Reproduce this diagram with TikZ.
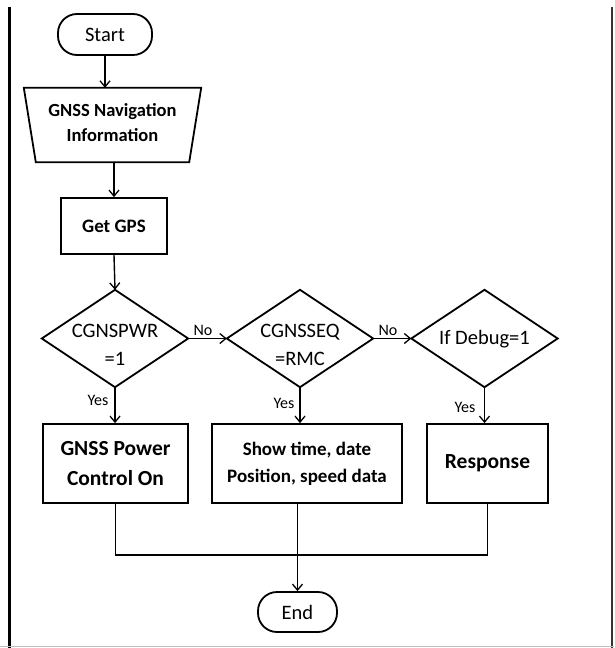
\documentclass[tikz,border=0pt]{standalone}
\usepackage{fontspec}
\setmainfont{Carlito}
\usetikzlibrary{arrows.meta}
\begin{document}
\begin{tikzpicture}[x=1pt,y=-1pt,
  shapeline/.style={line width=1.8pt},
  flow/.style={line width=1.4pt,-{Straight Barb[length=6pt,width=10pt,line width=1.3pt]}},
  link/.style={line width=1.4pt},
  terminal/.style={draw,shapeline,rounded corners=19pt,inner sep=0pt,font=\fontsize{20.5}{22}\selectfont},
  procbox/.style={draw,shapeline,inner sep=0pt,align=center},
  decision/.style={inner sep=0pt,minimum width=146pt,minimum height=97pt},
  dtext/.style={align=center,inner sep=0pt,font=\fontsize{20.5}{28}\selectfont},
  lbl/.style={font=\fontsize{16}{18}\selectfont,inner sep=0pt}
]
% page area
\useasboundingbox (0,0) rectangle (614,648);
\fill[white] (0,0) rectangle (614,648);

% frame
\draw[line width=2.4pt] (9.5,7) -- (9.5,648);
\draw[line width=2pt,black!80] (612,7) -- (612,648);
\draw[line width=1.6pt,black!25] (0,646.5) -- (614,646.5);

% terminals and process nodes
\node[terminal,minimum width=94pt,minimum height=41pt] (start) at (105,34.5) {Start};
\node[inner sep=0pt,minimum width=177pt,minimum height=74pt] (trap) at (112.5,125) {};
\node[align=center,font=\bfseries\fontsize{18.5}{25}\selectfont] (traptext) at (112.5,123) {GNSS Navigation\\Information};
\draw[shapeline,line join=miter] (trap.north west) -- (trap.north east)
  -- ([xshift=-12pt]trap.south east) -- ([xshift=12pt]trap.south west) -- cycle;
\node[procbox,minimum width=106pt,minimum height=56pt,font=\bfseries\fontsize{19}{22}\selectfont] (gps) at (114,226) {Get GPS};

% decisions: outline from the node's side midpoints, text set separately
\node[decision] (d1) at (115,338.5) {};
\node[decision] (d2) at (300,338.5) {};
\node[decision] (d3) at (484.5,338.5) {};
\foreach \n in {d1,d2,d3}
  \draw[shapeline,line join=miter] (\n.north) -- (\n.east) -- (\n.south) -- (\n.west) -- cycle;
\node[dtext] (d1t) at (115,345) {CGNSPWR\\=1};
\node[dtext] (d2t) at (300,345) {CGNSSEQ\\=RMC};
\node[dtext] (d3t) at (484.5,339) {If Debug=1};

% actions
\node[procbox,minimum width=145pt,minimum height=79pt,font=\bfseries\fontsize{21.5}{30}\selectfont] (box1) at (115.5,463.5) {GNSS Power\\Control On};
\node[procbox,minimum width=190pt,minimum height=79pt,font=\bfseries\fontsize{19}{27}\selectfont] (box2) at (307,463.5) {Show time, date\\Position, speed data};
\node[procbox,minimum width=121pt,minimum height=79pt,font=\bfseries\fontsize{21.5}{30}\selectfont] (box3) at (487.5,463.5) {Response};

\node[terminal,minimum width=79pt,minimum height=40pt] (end) at (297.5,612) {End};

% connectors
\draw[flow] (start.south) -- (start.south |- trap.north);
\draw[flow] (gps.north |- trap.south) -- (gps.north);
\draw[flow] (gps.south) -- (d1.north);
\draw[flow] (d1.east) -- (d2.west);
\draw[flow] (d2.east) -- (d3.west);
\draw[flow] (d1.south) -- (d1.south |- box1.north);
\draw[flow] (d2.south) -- (d2.south |- box2.north);
\draw[flow] (d3.south) -- (d3.south |- box3.north);

\coordinate (join) at (297.5,555);
\draw[link] (box1.south) |- (join) -| (box3.south);
\draw[flow] (end.north |- box2.south) -- (end.north);

% branch labels
\node[lbl] (no1) at (203,330) {No};
\node[lbl] (no2) at (388,330) {No};
\node[lbl] (yes1) at (98,400) {Yes};
\node[lbl] (yes2) at (284,403) {Yes};
\node[lbl] (yes3) at (465,407) {Yes};
\end{tikzpicture}
\end{document}
